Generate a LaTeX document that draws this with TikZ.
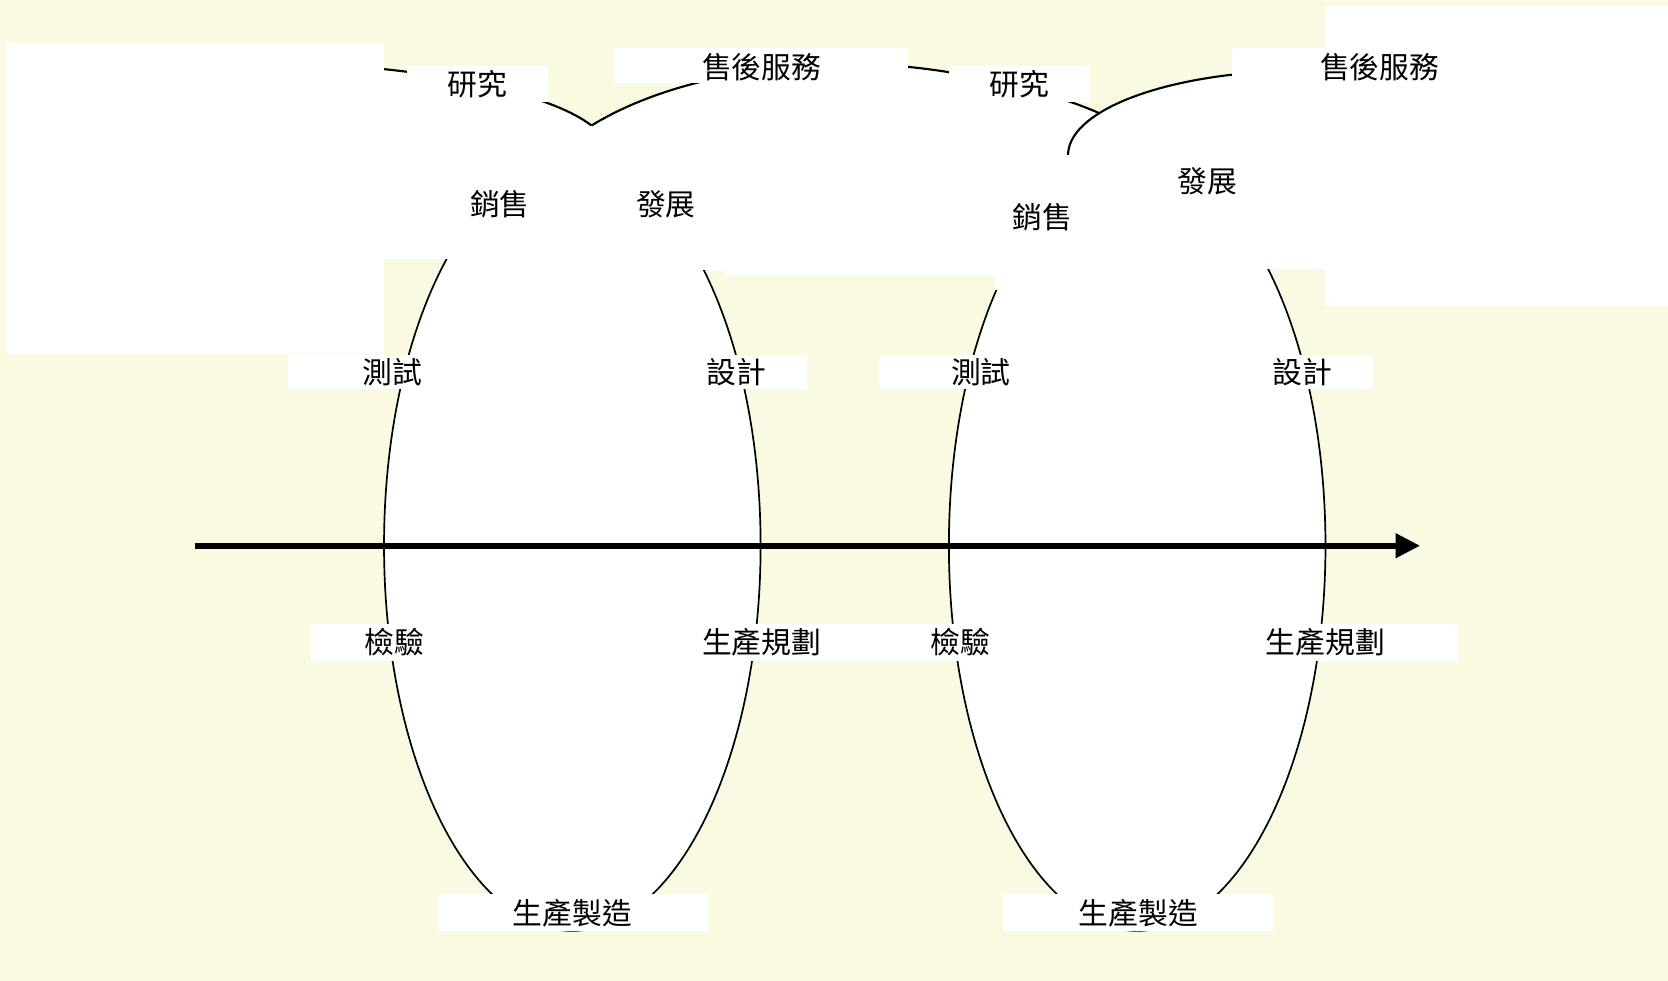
\documentclass[tikz,border=0pt]{standalone}
\usepackage{fontspec}
\newfontfamily\cjk{Noto Sans CJK TC}
\usetikzlibrary{arrows.meta}
\definecolor{cream}{RGB}{250,250,226}
\begin{document}
\begin{tikzpicture}[x=0.5pt,y=-0.5pt,
  wbox/.style={fill=white,draw=none},
  lbl/.style={font=\cjk\fontsize{14}{16}\selectfont,inner sep=0pt,anchor=center},
  ell/.style={draw=black,fill=white,line width=0.8pt},
  arcline/.style={draw=black,line width=1pt},
  flow/.style={line width=2.7pt,-{Triangle[length=11.5pt,width=11pt]}}]
\useasboundingbox (0,0) rectangle (1568,922);
\fill[cream] (0,0) rectangle (1568,922);
% the two cycles
\path[ell] (538,513) ellipse [x radius=177,y radius=362];
\path[ell] (1069,513) ellipse [x radius=177,y radius=362];
% time axis
\coordinate (as) at (183,513);
\coordinate (ae) at (1335,513);
\draw[flow] (as) -- (ae);
% top arcs
\fill[white] (361,65) .. controls (430,72) and (520,90) .. (556,118) -- (556,150) -- (361,150) -- cycle;
\draw[arcline] (361,65) .. controls (430,72) and (520,90) .. (556,118);
\fill[white] (556,118) .. controls (610,85) and (690,62) .. (800,60) .. controls (880,60) and (980,82) .. (1037,108) -- (1037,150) -- (556,150) -- cycle;
\draw[arcline] (556,118) .. controls (610,85) and (690,62) .. (800,60) .. controls (880,60) and (980,82) .. (1037,108);
\fill[white] (1004,146) .. controls (1004,110) and (1070,80) .. (1160,70) -- (1160,150) -- (1004,150) -- cycle;
\draw[arcline] (1004,146) .. controls (1004,110) and (1070,80) .. (1160,70);
% white covering boxes
\path[wbox] (6,40) rectangle (361,333);
\path[wbox] (1246,6) rectangle (1568,288);
\path[wbox] (361,118) rectangle (540,243);
\path[wbox] (540,119) rectangle (682,254);
\path[wbox] (682,119) rectangle (935,259);
\path[wbox] (935,146) rectangle (1069,273);
\path[wbox] (1069,119) rectangle (1246,253);
\path[wbox] (1158,45) rectangle (1260,130);
\path[wbox] (383,62) rectangle (515,96);
\path[wbox] (577,45) rectangle (854,78);
\path[wbox] (892,62) rectangle (1025,96);
\path[wbox] (271,334) rectangle (440,366);
\path[wbox] (640,334) rectangle (759,366);
\path[wbox] (826,334) rectangle (960,366);
\path[wbox] (1170,334) rectangle (1291,366);
\path[wbox] (292,587) rectangle (450,621);
\path[wbox] (640,587) rectangle (820,621);
\path[wbox] (820,587) rectangle (960,621);
\path[wbox] (1170,587) rectangle (1371,621);
\path[wbox] (412,840) rectangle (666,875);
\path[wbox] (943,840) rectangle (1197,875);
% labels
\node[lbl] (yj1) at (449,79) {研究};
\node[lbl] (sh1) at (716,63) {售後服務};
\node[lbl] (yj2) at (958,79) {研究};
\node[lbl] (sh2) at (1297,63) {售後服務};
\node[lbl] (xs1) at (470,192) {銷售};
\node[lbl] (fz1) at (626,192) {發展};
\node[lbl] (xs2) at (980,204) {銷售};
\node[lbl] (fz2) at (1135,170) {發展};
\node[lbl] (cs1) at (369,350) {測試};
\node[lbl] (sj1) at (692,350) {設計};
\node[lbl] (cs2) at (922,350) {測試};
\node[lbl] (sj2) at (1224,350) {設計};
\node[lbl] (jy1) at (371,604) {檢驗};
\node[lbl] (gh1) at (716,604) {生產規劃};
\node[lbl] (jy2) at (903,604) {檢驗};
\node[lbl] (gh2) at (1246,604) {生產規劃};
\node[lbl] (zz1) at (538,858) {生產製造};
\node[lbl] (zz2) at (1070,858) {生產製造};
\end{tikzpicture}
\end{document}
